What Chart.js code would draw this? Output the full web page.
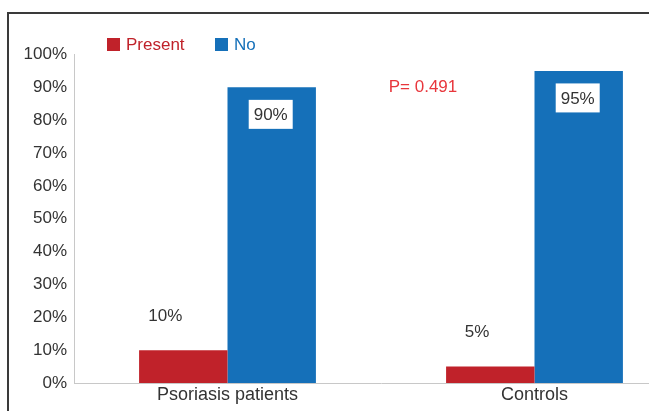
<!DOCTYPE html>
<html>
<head>
<meta charset="utf-8">
<script src="https://cdn.jsdelivr.net/npm/chart.js@4/dist/chart.umd.min.js"></script>
<style>
  html, body { margin: 0; padding: 0; width: 649px; height: 411px; overflow: hidden; background: #fff; }
  #frame { position: absolute; left: 7px; top: 12px; width: 760px; height: 440px; border: 2px solid #3a3a3a; box-sizing: border-box; }
  #c { position: absolute; left: 0; top: 0; }
</style>
</head>
<body>
<div id="frame"></div>
<canvas id="c" width="720" height="411"></canvas>
<script>
// ---- data ----
const categories = ["Psoriasis patients", "Controls"];
const seriesNames = ["Present", "No"];
const presentValues = [10, 5];
const noValues = [90, 95];
const yTickValues = [0, 10, 20, 30, 40, 50, 60, 70, 80, 90, 100];
const pValueText = "P= 0.491";

const RED = "#c0222a";
const BLUE = "#1570b9";
const FONT = "'Liberation Sans', Arial, sans-serif";

const overlay = {
  id: "overlay",
  afterDatasetsDraw(chart) {
    const ctx = chart.ctx;
    const ca = chart.chartArea;
    const y = chart.scales.y;
    ctx.save();
    ctx.font = "17px " + FONT;
    ctx.textBaseline = "middle";
    // legend
    const legendColors = [RED, BLUE];
    const legendX = [107, 215];
    chart.data.datasets.forEach((ds, i) => {
      const lx = legendX[i];
      ctx.fillStyle = legendColors[i];
      ctx.fillRect(lx, 38, 13, 13);
      ctx.textAlign = "left";
      ctx.fillText(ds.label, lx + 19, 45);
    });
    // red value labels
    const m0 = chart.getDatasetMeta(0);
    m0.data.forEach((bar, i) => {
      ctx.fillStyle = "#333";
      ctx.textAlign = "right";
      ctx.fillText(presentValues[i] + "%", bar.x - 1, bar.y - 34);
    });
    // blue value labels with white boxes
    const m1 = chart.getDatasetMeta(1);
    m1.data.forEach((bar, i) => {
      const cx = bar.x - 1, cy = bar.y + 27;
      ctx.fillStyle = "#fff";
      ctx.fillRect(cx - 22, cy - 14.5, 44, 29);
      ctx.fillStyle = "#333";
      ctx.textAlign = "center";
      ctx.fillText(noValues[i] + "%", cx, cy + 1);
    });
    // p-value
    ctx.fillStyle = "#e8363c";
    ctx.textAlign = "center";
    ctx.fillText(pValueText, ca.left + 349, y.getPixelForValue(90));
    ctx.restore();
  }
};

new Chart(document.getElementById("c"), {
  type: "bar",
  data: {
    labels: categories,
    datasets: [
      { label: seriesNames[0], data: presentValues, backgroundColor: RED, borderWidth: 0 },
      { label: seriesNames[1], data: noValues, backgroundColor: BLUE, borderWidth: 0 }
    ]
  },
  options: {
    responsive: false,
    animation: false,
    devicePixelRatio: 1,
    layout: { padding: { left: 0, top: 54.5, right: 32, bottom: 0 } },
    plugins: { legend: { display: false }, tooltip: { enabled: false } },
    datasets: { bar: { categoryPercentage: 0.576, barPercentage: 1 } },
    scales: {
      x: {
        grid: { display: false, drawTicks: false },
        border: { display: true, color: "#c8c8c8", width: 1 },
        ticks: { color: "#333", font: { family: FONT, size: 18 }, padding: 1, maxRotation: 0 },
        afterFit(s) { s.height = 28; }
      },
      y: {
        min: 0, max: 100,
        grid: { display: false, drawTicks: false },
        border: { display: true, color: "#c8c8c8", width: 1 },
        afterBuildTicks(s) { s.ticks = yTickValues.map(v => ({ value: v })); },
        ticks: { color: "#333", font: { family: FONT, size: 17 }, padding: 7, callback: v => v + "%" },
        afterFit(s) { s.width = 74; }
      }
    }
  },
  plugins: [overlay]
});
</script>
</body>
</html>
